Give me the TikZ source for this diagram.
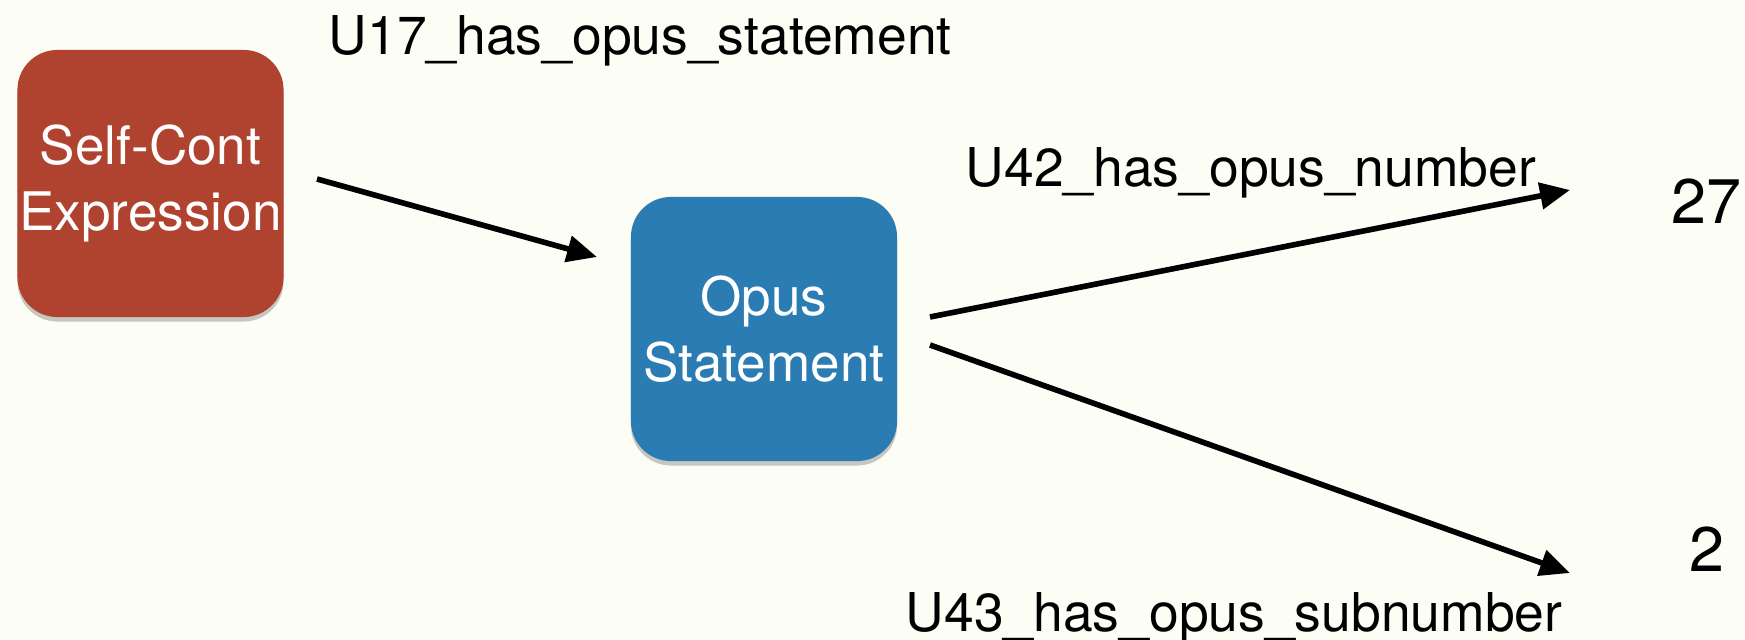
\documentclass[tikz,border=0pt]{standalone}
\usepackage{fontspec}
\setmainfont{TeX Gyre Heros}
\usetikzlibrary{arrows.meta,shadows}
\definecolor{bgc}{RGB}{252,253,244}
\definecolor{redbox}{RGB}{176,67,48}
\definecolor{bluebox}{RGB}{43,124,178}
\tikzset{
  boxnode/.style={rounded corners=0.4cm, minimum width=2.66cm, minimum height=2.66cm,
    text=white, align=center, inner sep=0pt,
    font=\fontsize{15.1}{18.6}\selectfont,
    drop shadow={shadow xshift=0pt, shadow yshift=-0.045cm, opacity=0.3, fill=black!70}},
  lbl/.style={anchor=base west, inner sep=0pt, font=\fontsize{15.2}{18}\selectfont},
  numlbl/.style={anchor=base west, inner sep=0pt, font=\fontsize{17.9}{21}\selectfont},
  conn/.style={line width=1.6pt, -{Triangle[length=0.3cm,width=0.26cm]}}
}
\begin{document}
\begin{tikzpicture}[x=0.01cm,y=-0.01cm]
\fill[bgc] (0,0) rectangle (1745,640);
\useasboundingbox (0,0) rectangle (1745,640);

\node[boxnode, fill=redbox, minimum height=2.67cm] (sce) at (150.5,183.5) {Self-Cont\\Expression};
\node[boxnode, fill=bluebox, minimum height=2.64cm] (ops) at (764,329) {Opus\\Statement};

\node[lbl] (l17) at (328,55) {U17\_has\_opus\_statement};
\node[lbl] (l42) at (965,187) {U42\_has\_opus\_number};
\node[lbl] (l43) at (905,632) {U43\_has\_opus\_subnumber};

\node[numlbl] (n27) at (1671,224) {27};
\node[numlbl] (n2) at (1689,572) {2};

\coordinate (a1s) at (317,179);
\coordinate (a1e) at (597,257);
\coordinate (a2s) at (930,317);
\coordinate (a2e) at (1570,190);
\coordinate (a3s) at (930,345);
\coordinate (a3e) at (1570,573);

\draw[conn] (a1s) -- (a1e);
\draw[conn] (a2s) -- (a2e);
\draw[conn] (a3s) -- (a3e);
\end{tikzpicture}
\end{document}
